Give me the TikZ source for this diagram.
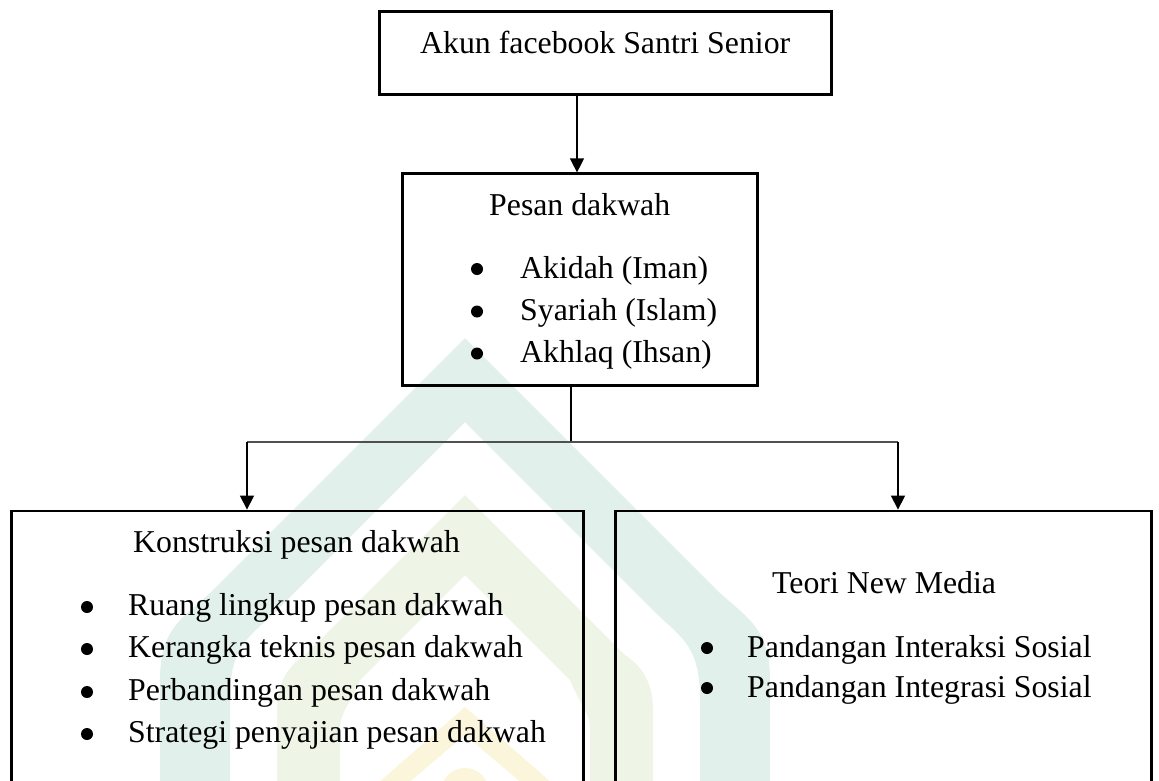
\documentclass[tikz,border=0pt]{standalone}
\usepackage{fontspec}
\setmainfont{Liberation Serif}
\usetikzlibrary{arrows.meta}
\definecolor{wmteal}{HTML}{E2F0EC}
\definecolor{wmgreen}{HTML}{EEF5E6}
\definecolor{wmyellow}{HTML}{FBF5DC}
\definecolor{hgrey}{HTML}{505050}
\begin{document}
\begin{tikzpicture}[x=1pt,y=-1pt,
  boxA/.style={draw=black,line width=2.2pt,rectangle,inner sep=0pt},
  boxB/.style={draw=black,line width=2.8pt,rectangle,inner sep=0pt},
  txt/.style={anchor=base west,inner sep=0pt,font=\fontsize{31.8}{38}\selectfont},
  bul/.style={circle,fill=black,inner sep=0pt,minimum size=12pt},
  arr/.style={line width=1.2pt,-{Triangle[width=14pt,length=14pt]}},
  thinline/.style={line width=1.2pt},
  hline/.style={line width=1.6pt,draw=hgrey}]
\useasboundingbox (0,0) rectangle (1159,780);
\begin{scope}
\clip (0,0) rectangle (1159,780);
% watermark
\fill[wmteal,even odd rule]
  (160,800) -- (160,680) .. controls (160,630) and (180,620) .. (210,593) -- (465,338) -- (720,593)
  .. controls (750,620) and (770,630) .. (770,680) -- (770,800) -- cycle
  (230,800) -- (230,700) .. controls (230,650) and (245,640) .. (270,617) -- (465,422) -- (660,617)
  .. controls (685,640) and (700,650) .. (700,700) -- (700,800) -- cycle;
\fill[wmgreen,even odd rule]
  (277,800) -- (277,710) .. controls (277,680) and (290,665) .. (305,655) -- (465,495) -- (625,655)
  .. controls (640,665) and (653,680) .. (653,710) -- (653,800) -- cycle
  (340,800) -- (340,730) .. controls (340,712) and (350,705) .. (360,680) -- (465,575) -- (570,680)
  .. controls (580,705) and (590,712) .. (590,730) -- (590,800) -- cycle;
\fill[wmyellow,even odd rule]
  (370,790) -- (465,707) -- (560,790) -- cycle
  (400,790) -- (465,735) -- (530,790) -- cycle;
\fill[wmyellow] (465,792) circle (24);
% boxes
\node[boxA,minimum width=452pt,minimum height=83pt] (acc) at (605.5,53) {};
\node[boxA,minimum width=355pt,minimum height=212pt] (pd) at (580,279.5) {};
\node[boxB,minimum width=572pt,minimum height=289pt] (kb) at (297.5,655.5) {};
\node[boxB,minimum width=536pt,minimum height=289pt] (tb) at (883.5,655.5) {};
\end{scope}
% texts
\node[txt] (t0) at (420,53) {Akun facebook Santri Senior};
\node[txt] (t1) at (489,215) {Pesan dakwah};
\node[txt] (t1a) at (520,278) {Akidah (Iman)};
\node[txt] (t1b) at (520,320) {Syariah (Islam)};
\node[txt] (t1c) at (520,362) {Akhlaq (Ihsan)};
\node[bul] (b1a) at (477,269) {};
\node[bul] (b1b) at (477,311.5) {};
\node[bul] (b1c) at (477,353.5) {};
\node[txt] (t2) at (133,552) {Konstruksi pesan dakwah};
\node[txt] (t2a) at (128,615) {Ruang lingkup pesan dakwah};
\node[txt] (t2b) at (128,657) {Kerangka teknis pesan dakwah};
\node[txt] (t2c) at (128,700) {Perbandingan pesan dakwah};
\node[txt] (t2d) at (128,742) {Strategi penyajian pesan dakwah};
\node[bul] (b2a) at (87,607) {};
\node[bul] (b2b) at (87,649) {};
\node[bul] (b2c) at (87,692) {};
\node[bul] (b2d) at (87,734) {};
\node[txt] (t3) at (772,593) {Teori New Media};
\node[txt] (t3a) at (747,657) {Pandangan Interaksi Sosial};
\node[txt] (t3b) at (747,697) {Pandangan Integrasi Sosial};
\node[bul] (b3a) at (707,648) {};
\node[bul] (b3b) at (707,688) {};
% connectors
\coordinate (j) at (571,442);
\coordinate (jl) at (247,442);
\coordinate (jr) at (898,442);
\draw[arr] ([xshift=-28.5pt]acc.south) -- ([xshift=-3pt]pd.north);
\draw[thinline] ([xshift=-9pt]pd.south) -- (j);
\draw[hline] (jl) -- (jr);
\draw[arr] (jl) -- (jl |- kb.north);
\draw[arr] (jr) -- (jr |- tb.north);
\end{tikzpicture}
\end{document}
